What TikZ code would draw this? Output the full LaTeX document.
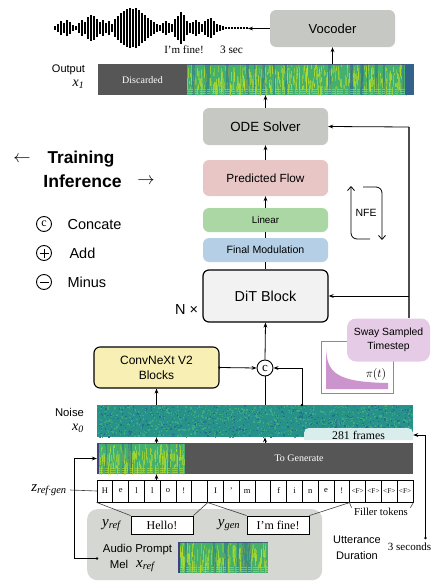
\documentclass[tikz,border=0pt]{standalone}
\usepackage{fontspec}
\setmainfont{Liberation Serif}
\setsansfont{Liberation Sans}
\usetikzlibrary{arrows.meta,calc}
\definecolor{spgreen}{HTML}{45B06C}
\definecolor{spyellow}{HTML}{B8DE29}
\definecolor{spblue}{HTML}{2E6F8E}
\definecolor{sppurple}{HTML}{472D7B}
\definecolor{noisebase}{HTML}{26928A}
\definecolor{noiselite}{HTML}{3DAB7E}
\definecolor{noisedark}{HTML}{25718D}
\definecolor{dgray}{HTML}{565656}
\definecolor{boxgray}{HTML}{C6C8C4}
\definecolor{pflowcol}{HTML}{E8C6C5}
\definecolor{lincol}{HTML}{ABD7A4}
\definecolor{fmcol}{HTML}{B5D0E6}
\definecolor{ditcol}{HTML}{F2F2F2}
\definecolor{convcol}{HTML}{F7EFB3}
\definecolor{swaycol}{HTML}{E6CBE6}
\definecolor{pifill}{HTML}{CC94CC}
\definecolor{promptgray}{HTML}{D5D8D2}
\definecolor{framecol}{HTML}{D9EEEC}
\newcommand\fsz[2]{\fontsize{#1pt}{#2pt}\selectfont}
\newcommand\specgram[5]{%
  \begin{scope}
  \clip (#1,#2) rectangle ++(#3,#4);
  \fill[spgreen] (#1,#2) rectangle ++(#3,#4);
  \pgfmathsetseed{#5}
  \pgfmathtruncatemacro\nst{#3*2.2}
  \foreach \k in {1,...,\nst}{
    \pgfmathsetmacro\sx{#1+rnd*#3}
    \pgfmathsetmacro\sy{#2+rnd*#4*0.75}
    \pgfmathsetmacro\sh{2+rnd*#4*0.35}
    \pgfmathsetmacro\so{0.3+0.45*rnd}
    \fill[spyellow, opacity=\so] (\sx,\sy) rectangle ++(1.0,\sh);
  }
  \pgfmathtruncatemacro\ndk{#3/12}
  \foreach \k in {1,...,\ndk}{
    \pgfmathsetmacro\sx{#1+rnd*#3}
    \pgfmathsetmacro\sw{1+rnd*3}
    \fill[spblue, opacity=0.5] (\sx,#2) rectangle ++(\sw,#4);
  }
  \foreach \f in {0.8,0.87,0.94}{
    \draw[spyellow, opacity=0.6, line width=0.6pt, dash pattern=on 6pt off 1.5pt on 3pt off 2pt] (#1,{#2+#4*\f}) -- ++(#3,0);
  }
  \draw[sppurple, line width=0.8pt, opacity=0.6] (#1,{#2+0.4}) -- ++(#3,0);
  \end{scope}}
\tikzset{
  blk/.style={rounded corners=6pt, minimum width=125pt, inner sep=0pt, align=center, font=\sffamily},
  arr/.style={-{Stealth[length=5pt,width=3.8pt]}, line width=0.8pt},
  ln/.style={line width=0.8pt},
  nfearr/.style={-{Straight Barb[length=4pt,width=7pt]}, line width=0.8pt, rounded corners=6pt},
  cell/.style={draw, line width=0.8pt, minimum width=15.8pt, minimum height=22pt, inner sep=0pt},
  tbox/.style={draw, line width=0.9pt, fill=white, minimum width=62pt, minimum height=18pt, inner sep=0pt, font=\fsz{12}{14}},
  frame/.style={minimum width=316pt, inner sep=0pt},
  guide/.style={line width=0.6pt, draw=black!75},
  lgc/.style={circle, draw, line width=0.9pt, minimum size=15pt, inner sep=0pt},
}
\begin{document}
\begin{tikzpicture}[x=1pt,y=-1pt]
\useasboundingbox (0,0) rectangle (431,581);

% ---------- waveform ----------
\foreach \xx/\hh in {55/2,58/4,61/7,64/5,67/8,70/6,73/3,76/2,79/5,82/8,85/6,88/11,91/13,94/12,97/9,100/6,103/8,106/5,109/7,112/4,115/9,118/12,121/15,124/17,127/19,130/20,133/19,136/20,139/18,142/15,145/13,148/10,151/8,154/6,157/4,160/3,163/5,166/7,169/5,172/4,175/9,178/12,181/16,184/13,187/7,190/5,193/6,196/8,199/6,202/4,205/7,208/9,211/10,214/7,217/4,220/3,223/2}
  \draw[line width=1.6pt] ({\xx},{28-\hh}) -- ({\xx},{28+\hh});
\foreach \xx in {226,229,...,247}
  \fill ({\xx-0.6},27) rectangle ++(1.3,2);
\coordinate (wend) at (248,28.5);
\node[font=\fsz{11}{13}] (wtxt) at (184,50) {I'm fine!};
\node[font=\fsz{11.3}{13}] (wsec) at (231.5,50) {3 sec};

% ---------- top blocks ----------
\node[blk, fill=boxgray, minimum height=37pt, font=\sffamily\fsz{13}{15}] (voc) at (332.5,28.5) {Vocoder};
\draw[arr] (voc.west) -- (wend);

% output spectrogram
\specgram{187}{64}{227}{31}{7}
\fill[spblue!80!sppurple] (405,64) rectangle (414,95);
\fill[dgray] (98,64) rectangle (187,95);
\node[text=white, font=\fsz{10}{12}] (disc) at (142.5,80) {Discarded};
\node[frame, minimum height=31pt] (outbar) at (256,79.5) {};
\node[font=\sffamily\fsz{11}{13}] (outlab) at (68.5,70) {Output};
\node[font=\fsz{14}{16}, inner sep=1pt] (x1lab) at (78.5,84) {\textit{x}\textsubscript{\textit{1}}};
\draw[arr] (outbar.north -| voc.south) -- (voc.south);

\node[blk, fill=boxgray, minimum height=37pt, font=\sffamily\fsz{13.3}{15}] (ode) at (265.5,126.5) {ODE Solver};
\node[blk, fill=pflowcol, minimum height=36pt, font=\sffamily\fsz{11.8}{14}] (pflow) at (265.5,178) {Predicted Flow};
\node[blk, fill=lincol, minimum height=24pt, font=\sffamily\fsz{9.8}{12}] (lin) at (265.5,220) {Linear};
\node[blk, fill=fmcol, minimum height=24pt, font=\sffamily\fsz{10.6}{12}] (fmod) at (265.5,250) {Final Modulation};
\node[blk, draw, line width=1.2pt, fill=ditcol, minimum height=52pt, font=\sffamily\fsz{14.4}{16}] (dit) at (265.5,296) {DiT Block};
\node[font=\sffamily\fsz{14.5}{16}] (ntimes) at (186.5,310) {N ×};

\draw[arr] (ode.north) -- (ode.north |- outbar.south);
\draw[arr] (pflow.north) -- (ode.south);
\draw[arr] (lin.north) -- (pflow.south);
\draw[ln] (fmod.north) -- (lin.south);
\draw[ln] (dit.north) -- (fmod.south);

% ---------- legend ----------
\node[font=\fsz{17}{19}] (larr) at (22,159) {$\leftarrow$};
\node[font=\sffamily\bfseries\fsz{17.2}{19}] (ltrain) at (81,159) {Training};
\node[font=\sffamily\bfseries\fsz{17.6}{19}] (linf) at (82.5,181) {Inference};
\node[font=\fsz{17}{19}] (rarr) at (146,181) {$\rightarrow$};

\node[lgc, font=\fsz{12}{12}] (lc) at (44,224) {c};
\node[anchor=west, font=\sffamily\fsz{14.5}{16}] (lct) at (64,225) {Concate};
\node[lgc] (lp) at (44,253) {};
\draw[line width=0.9pt] ($(lp)+(-4.5,0)$) -- ($(lp)+(4.5,0)$) ($(lp)+(0,-4.5)$) -- ($(lp)+(0,4.5)$);
\node[anchor=west, font=\sffamily\fsz{14.5}{16}] (lpt) at (66,253) {Add};
\node[lgc] (lm) at (44,282) {};
\draw[line width=0.9pt] ($(lm)+(-4.5,0)$) -- ($(lm)+(4.5,0)$);
\node[anchor=west, font=\sffamily\fsz{14.5}{16}] (lmt) at (64,282) {Minus};

% ---------- NFE ----------
\node[font=\sffamily\fsz{10.5}{12}] (nfe) at (366,213) {NFE};
\draw[nfearr] ($(nfe)+(4,26)$) -| ($(nfe)+(-15,-27)$);
\draw[nfearr] ($(nfe)+(-3,-26)$) -| ($(nfe)+(16,27)$);

% ---------- sway / pi ----------
\node[draw=black!45, line width=0.9pt, fill=white, minimum width=72pt, minimum height=52pt, inner sep=0pt] (piplot) at (357,367) {};
\fill[pifill] (326,389) -- (326,348) .. controls (327,373) and (336,382) .. (388,383) -- (388,389) -- cycle;
\node[font=\fsz{12}{14}] (pilab) at (376,374) {$\pi(t)$};
\node[blk, fill=swaycol, rounded corners=9pt, minimum width=83pt, minimum height=43pt, font=\sffamily\fsz{10.4}{14}] (sway) at (388.5,340) {Sway Sampled\\Timestep};
\coordinate (rtop) at (409,127);
\draw[line width=1.1pt, black!70] (sway.north -| rtop) -- (rtop);
\draw[arr] (rtop) -- (ode.east);
\draw[arr] (rtop |- dit.east) -- (dit.east);

% ---------- ConvNeXt and concat ----------
\node[blk, draw, line width=1.1pt, fill=convcol, minimum height=41pt, font=\sffamily\fsz{12}{15}] (conv) at (156.5,367.5) {ConvNeXt V2\\Blocks};
\node[circle, draw, line width=0.9pt, fill=white, minimum size=16pt, inner sep=0pt, font=\fsz{13}{13}] (cat) at (265,368) {c};
\draw[arr] (conv.east) -- (cat.west);
\fill (conv.east) circle (1.3);
\draw[arr] (cat.north) -- (dit.south);

% ---------- noise ----------
\begin{scope}
\clip (97,405) rectangle (413,437);
\fill[noisebase] (97,405) rectangle (413,437);
\pgfmathsetseed{11}
\foreach \k in {1,...,900}{
  \pgfmathsetmacro\sx{97+rnd*316}
  \pgfmathsetmacro\sy{405+rnd*32}
  \fill[noiselite] (\sx,\sy) rectangle ++(1.3,1.3);
}
\foreach \k in {1,...,450}{
  \pgfmathsetmacro\sx{97+rnd*316}
  \pgfmathsetmacro\sy{405+rnd*32}
  \fill[noisedark] (\sx,\sy) rectangle ++(1.3,1.3);
}
\end{scope}
\node[frame, minimum height=32pt] (noise) at (255,421) {};
\fill[framecol] (304,440) [rounded corners=5pt] -- (304,428) -- (413,428) [sharp corners] -- (413,440) -- cycle;
\node[font=\fsz{11.8}{13}, minimum width=109pt, minimum height=12pt, inner sep=0pt] (frames) at (358.5,435) {281 frames};
\node[font=\sffamily\fsz{11.3}{13}] (noiselab) at (69.5,412) {Noise};
\node[font=\fsz{14}{16}, inner sep=1pt] (x0lab) at (78,428) {\textit{x}\textsubscript{\textit{0}}};

\coordinate (cin) at (302,405);
\fill (cin) circle (1.3);
\draw[arr] (cin) |- (cat.east);
\draw[ln] (cat.south) -- (cat.south |- noise.north);
\draw[arr] (conv.south |- noise.north) -- (conv.south);

% ---------- mel row ----------
\specgram{97}{443}{88}{31}{5}
\fill[sppurple!70!spblue] (97,443) rectangle (99,474);
\fill[dgray] (185,443) rectangle (413,474);
\node[text=white, font=\fsz{10}{12}] (gen) at (299,458.5) {To Generate};
\node[frame, minimum height=31pt] (mel) at (255,458.5) {};
\draw[arr] (mel.north -| conv.south) -- (noise.south -| conv.south);
\draw[arr] (mel.north -| cat.south) -- (noise.south -| cat.south);

% ---------- token row ----------
\foreach \t [count=\k from 0] in {H,e,l,l,o,!,{},I,',m,{},f,i,n,e,!}
  \node[cell, font=\fsz{8.5}{10}] (tk\k) at ({97+15.8*\k+7.9},491) {\t};
\foreach \k in {16,...,19}
  \node[cell, font=\fsz{7.3}{9}] (tk\k) at ({97+15.8*\k+7.9},491) {<F>};
\node[frame, minimum height=22pt] (tok) at (255,491) {};
\draw[arr] (tok.north -| conv.south) -- (mel.south -| conv.south);
\node[font=\fsz{15}{16}] (zlab) at (49,490) {\textit{z}\textsubscript{\textit{ref·gen}}};
\draw[guide] (zlab.east) -- (tok.west);
\node[font=\fsz{10.7}{12}] (filler) at (381,512) {Filler tokens};
\draw[guide] (tk16.south west) -- ($(filler.north west)+(1,3)$);
\draw[guide] (tk19.south east) -- ($(filler.north east)+(-1,3)$);

% ---------- audio prompt box ----------
\node[fill=promptgray, rounded corners=10pt, minimum width=235pt, minimum height=71pt, inner sep=0pt, anchor=north west] (prompt) at (87,509) {};
\node[tbox] (hello) at (162,525) {Hello!};
\node[tbox] (fine) at (278,525) {I'm fine!};
\draw[guide] (tk0.south west) -- (hello.north west);
\draw[guide] (tk6.south east) -- (hello.north east);
\draw[guide] (tk7.south west) -- (fine.north west);
\draw[guide] (tk15.south east) -- (fine.north east);
\node[font=\fsz{15}{16}] (yref) at (112,525) {\textit{y}\textsubscript{\textit{ref}}};
\node[font=\fsz{15}{16}] (ygen) at (229,525) {\textit{y}\textsubscript{\textit{gen}}};
\node[font=\sffamily\fsz{11.4}{13}] (aptxt) at (137.5,550) {Audio Prompt};
\node[font=\sffamily\fsz{11.4}{13}] (meltxt) at (119,564) {Mel};
\node[font=\fsz{15}{16}] (xref) at (146,566) {\textit{x}\textsubscript{\textit{ref}}};
\specgram{178}{542}{90}{31}{3}
\fill[sppurple!70!spblue] (178,542) rectangle (180,573);
\coordinate (apdot) at (97,558.5);
\fill (apdot) circle (1.3);
\draw[arr] (apdot) -| ($(mel.west)+(-22,0)$) -- (mel.west);

% ---------- utterance ----------
\node[font=\sffamily\fsz{11}{16}, align=center] (utt) at (357,548) {Utterance\\Duration};
\node[font=\fsz{11}{13}] (sec3) at (409.5,547) {3 seconds};
\coordinate (udot) at (425.5,538);
\fill (udot) circle (1.3);
\draw[arr] (udot) |- (frames.east);
\end{tikzpicture}
\end{document}
